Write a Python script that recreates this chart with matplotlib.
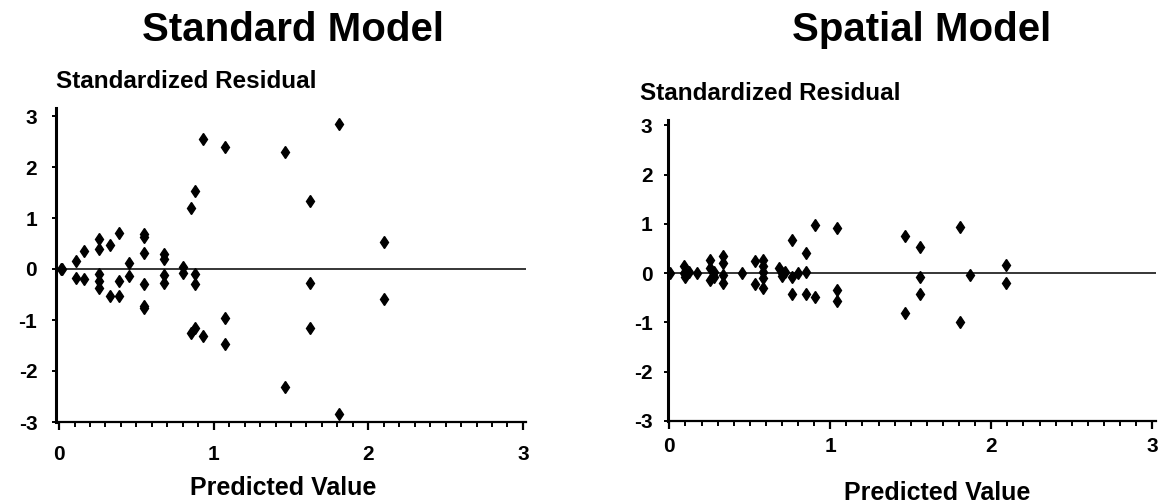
import numpy as np
import matplotlib.pyplot as plt
from matplotlib.ticker import MultipleLocator

plt.rcParams['font.family'] = ['Liberation Sans', 'DejaVu Sans']
plt.rcParams['font.weight'] = 'bold'
plt.rcParams['axes.unicode_minus'] = False

# Standard model residuals
x_std = [0.01, 0.02, 0.11, 0.11, 0.16, 0.16,
         0.26, 0.26, 0.26, 0.26, 0.26, 0.33, 0.33,
         0.385, 0.385, 0.385, 0.45, 0.45,
         0.55, 0.55, 0.55, 0.55, 0.55, 0.55,
         0.68, 0.68, 0.68, 0.68, 0.80, 0.80, 0.88, 0.88,
         0.85, 0.88, 0.85, 0.88, 0.93, 0.93,
         1.07, 1.07, 1.07, 1.46, 1.46, 1.62, 1.62, 1.62,
         1.81, 1.81, 2.10, 2.10]
y_std = [0.0, 0.0, 0.16, -0.17, 0.35, -0.2,
         0.58, 0.39, -0.1, -0.24, -0.37, 0.48, -0.53,
         0.71, -0.24, -0.53, 0.12, -0.14,
         0.68, 0.63, 0.32, -0.3, -0.72, -0.77,
         0.29, 0.19, -0.12, -0.27, 0.03, -0.07, -0.1, -0.3,
         1.2, 1.53, -1.25, -1.16, 2.54, -1.31,
         2.4, -0.97, -1.48, 2.29, -2.31, 1.33, -0.27, -1.15,
         2.84, -2.85, 0.52, -0.58]

# Spatial model residuals
x_sp = [0.005, 0.09, 0.09, 0.10, 0.12, 0.175,
        0.25, 0.25, 0.25, 0.275, 0.275,
        0.335, 0.335, 0.335, 0.335, 0.45, 0.53, 0.53,
        0.58, 0.58, 0.58, 0.58, 0.58, 0.68, 0.70, 0.72, 0.70,
        0.76, 0.76, 0.76, 0.80, 0.85, 0.85, 0.85, 0.905, 0.905,
        1.04, 1.04, 1.04, 1.465, 1.465, 1.56, 1.56, 1.56,
        1.805, 1.805, 1.87, 2.09, 2.09]
y_sp = [0.0, 0.14, 0.0, -0.07, 0.03, 0.0,
        0.27, 0.1, -0.14, 0.03, -0.07,
        0.34, 0.2, -0.03, -0.2, 0.0, 0.25, -0.23,
        0.27, 0.14, 0.03, -0.1, -0.31, 0.1, 0.0, 0.03, -0.05,
        0.68, -0.07, -0.43, 0.0, 0.41, 0.02, -0.43, 0.98, -0.48,
        0.92, -0.34, -0.56, 0.75, -0.8, 0.53, -0.08, -0.42,
        0.93, -0.99, -0.03, 0.16, -0.2]

x_ticks = [0, 1, 2, 3]
y_ticks = [-3, -2, -1, 0, 1, 2, 3]

W, H = 1159, 500
fig = plt.figure(figsize=(W / 100, H / 100), dpi=100)


def px(x0, y0, w, h):
    # pixel box (from top-left) -> figure fraction
    return [x0 / W, (H - y0 - h) / H, w / W, h / H]


def style(ax, xlim, ylim, xpad, ypad):
    ax.set_xlim(*xlim)
    ax.set_ylim(*ylim)
    ax.axhline(0, color='k', lw=1.1, zorder=1)
    ax.spines['top'].set_visible(False)
    ax.spines['right'].set_visible(False)
    ax.spines['left'].set_linewidth(2.2)
    ax.spines['bottom'].set_linewidth(1.6)
    ax.set_xticks(x_ticks)
    ax.set_yticks(y_ticks)
    ax.xaxis.set_minor_locator(MultipleLocator(0.1))
    ax.tick_params(axis='x', which='major', direction='out', length=6,
                   width=1.6, pad=xpad, labelsize=15)
    ax.tick_params(axis='x', which='minor', direction='out', length=3.5,
                   width=1.4)
    ax.tick_params(axis='y', which='major', direction='out', length=3,
                   width=1.4, pad=ypad, labelsize=15)
    for lab in ax.get_xticklabels() + ax.get_yticklabels():
        lab.set_fontweight('bold')


# Standard model
ax1 = fig.add_axes(px(56, 108.35, 470, 313.65))
ax1.plot(x_std, y_std, linestyle='none', marker='d', color='k',
         markersize=6, zorder=3)
style(ax1, (-0.02, 3.02), (-3, 3.15), 10.5, 10.5)

# Spatial model
ax2 = fig.add_axes(px(667.7, 120.3, 487.8, 300.7))
ax2.plot(x_sp, y_sp, linestyle='none', marker='d', color='k',
         markersize=6, zorder=3)
style(ax2, (-0.01, 3.02), (-3, 3.1), 5.5, 8)

# titles and labels
fig.text(293 / W, 1 - 30 / H, 'Standard Model', ha='center', va='center',
         fontsize=29, fontweight='bold')
fig.text(922 / W, 1 - 30 / H, 'Spatial Model', ha='center', va='center',
         fontsize=29, fontweight='bold')
fig.text(56 / W, 1 - 81 / H, 'Standardized Residual', ha='left',
         va='center', fontsize=17.5, fontweight='bold')
fig.text(640 / W, 1 - 94 / H, 'Standardized Residual', ha='left',
         va='center', fontsize=17.5, fontweight='bold')
fig.text(283 / W, 1 - 476 / H, 'Predicted Value', ha='center', va='top',
         fontsize=18, fontweight='bold')
fig.text(937 / W, 1 - 481 / H, 'Predicted Value', ha='center', va='top',
         fontsize=18, fontweight='bold')

fig.savefig('out.png', dpi=100)
